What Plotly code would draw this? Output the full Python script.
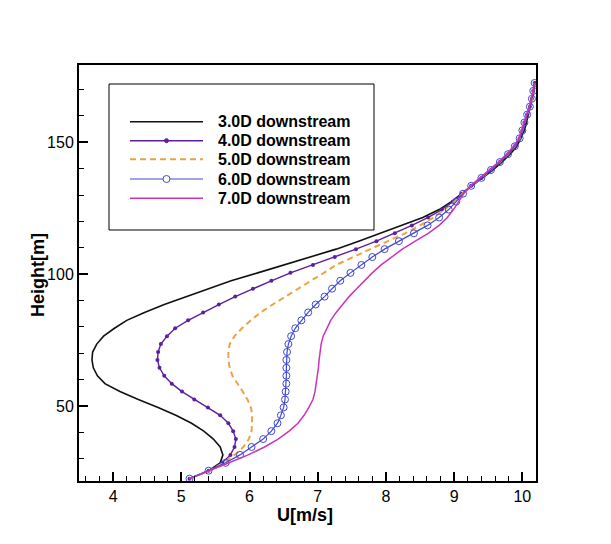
import plotly.graph_objects as go

# Heights shared by all profiles [m]
HEIGHT = [
    22.5, 25.5, 28.5, 31.5, 34.5, 37.5, 40.5, 43.5, 46.5, 49.5,
    52.5, 55.5, 58.5, 61.5, 64.5, 67.5, 70.5, 73.5, 76.5, 79.5,
    82.5, 85.5, 88.5, 91.5, 94.5, 97.5, 100.5, 103.5, 106.5, 109.5,
    112.5, 115.5, 118.5, 121.5, 124.5, 127.5, 130.5, 133.5, 136.5, 139.5,
    142.5, 145.5, 148.5, 151.5, 154.5, 157.5, 160.5, 163.5, 166.5, 169.5,
    172.5,
]

# Velocity U [m/s] at each height, per downstream distance
U_3D = [
    5.12, 5.40, 5.57, 5.61, 5.57, 5.47, 5.33, 5.15, 4.92, 4.66,
    4.37, 4.10, 3.88, 3.77, 3.71, 3.69, 3.70, 3.76, 3.86, 4.02,
    4.20, 4.46, 4.75, 5.07, 5.38, 5.73, 6.12, 6.51, 6.90, 7.27,
    7.60, 7.91, 8.24, 8.54, 8.78, 8.96, 9.11, 9.26, 9.42, 9.57,
    9.70, 9.82, 9.92, 9.98, 10.03, 10.06, 10.09, 10.12, 10.15, 10.17,
    10.18,
]
U_4D = [
    5.12, 5.40, 5.60, 5.72, 5.78, 5.80, 5.76, 5.69, 5.57, 5.39,
    5.19, 5.01, 4.86, 4.75, 4.68, 4.65, 4.66, 4.70, 4.79, 4.91,
    5.10, 5.32, 5.55, 5.79, 6.05, 6.32, 6.60, 6.93, 7.25, 7.56,
    7.86, 8.13, 8.38, 8.62, 8.82, 8.98, 9.11, 9.25, 9.40, 9.54,
    9.67, 9.79, 9.89, 9.96, 10.00, 10.03, 10.07, 10.11, 10.14, 10.16,
    10.18,
]
U_5D = [
    5.12, 5.41, 5.62, 5.78, 5.91, 5.99, 6.03, 6.04, 6.04, 6.02,
    5.97, 5.90, 5.83, 5.75, 5.71, 5.69, 5.69, 5.71, 5.78, 5.89,
    6.02, 6.16, 6.34, 6.52, 6.70, 6.90, 7.09, 7.27, 7.52, 7.77,
    8.03, 8.28, 8.50, 8.70, 8.86, 9.00, 9.12, 9.25, 9.40, 9.54,
    9.67, 9.79, 9.89, 9.96, 10.00, 10.03, 10.07, 10.11, 10.14, 10.16,
    10.18,
]
U_6D = [
    5.12, 5.40, 5.65, 5.86, 6.03, 6.20, 6.32, 6.41, 6.46, 6.50,
    6.52, 6.53, 6.54, 6.54, 6.54, 6.54, 6.55, 6.57, 6.61, 6.67,
    6.76, 6.86, 6.97, 7.10, 7.21, 7.33, 7.48, 7.64, 7.80, 7.98,
    8.19, 8.41, 8.61, 8.78, 8.92, 9.03, 9.13, 9.25, 9.40, 9.54,
    9.67, 9.79, 9.89, 9.96, 10.00, 10.03, 10.07, 10.11, 10.14, 10.16,
    10.18,
]
U_7D = [
    5.12, 5.42, 5.70, 5.98, 6.22, 6.42, 6.58, 6.71, 6.80, 6.87,
    6.93, 6.96, 6.98, 7.00, 7.01, 7.02, 7.03, 7.05, 7.08, 7.13,
    7.19, 7.27, 7.36, 7.46, 7.57, 7.68, 7.80, 7.93, 8.08, 8.24,
    8.43, 8.62, 8.78, 8.90, 8.99, 9.07, 9.14, 9.24, 9.38, 9.52,
    9.65, 9.77, 9.87, 9.95, 9.99, 10.02, 10.06, 10.10, 10.13, 10.16,
    10.18,
]

SERIES_NAMES = [
    "3.0D downstream",
    "4.0D downstream",
    "5.0D downstream",
    "6.0D downstream",
    "7.0D downstream",
]

X_RANGE = [3.5, 10.2]
Y_RANGE = [21.6, 179.3]

FONT = "Arial, Liberation Sans, sans-serif"

# line / marker styles, one per series
STYLES = [
    dict(line=dict(color="#111111", width=1.6), mode="lines"),
    dict(line=dict(color="#5b1fa0", width=1.4), mode="lines+markers",
         marker=dict(symbol="circle", size=4, color="#5b1fa0")),
    dict(line=dict(color="#e8a445", width=2, dash="6px,4px"), mode="lines"),
    dict(line=dict(color="#3f4ad0", width=1.2), mode="lines+markers",
         marker=dict(symbol="circle-open", size=7, color="#3f4ad0",
                     line=dict(width=1))),
    dict(line=dict(color="#cc33bb", width=1.5), mode="lines"),
]

# plot area in window pixels (page body has an 8px margin)
OFF = 8
L, R, T, B = 79, 536, 65, 481
W, H = 611 - OFF, 544 - OFF


def px_x(p):
    return (p - L) / (R - L)


def px_y(p):
    return (B - p) / (B - T)


fig = go.Figure()

for name, u, st in zip(SERIES_NAMES, [U_3D, U_4D, U_5D, U_6D, U_7D], STYLES):
    fig.add_trace(
        go.Scatter(
            x=u,
            y=HEIGHT,
            name=name,
            showlegend=False,
            hovertemplate=f"<b>{name}</b><br>U: %{{x}} m/s<br>Height: %{{y}} m<extra></extra>",
            **st,
        )
    )

# Tecplot-style legend box drawn in window pixels
shapes = [
    dict(type="rect", xref="paper", yref="paper",
         x0=px_x(109), x1=px_x(374), y0=px_y(230), y1=px_y(84),
         line=dict(color="black", width=1), fillcolor="white", layer="above"),
]
annotations = []
row_y = [121.7, 140.7, 159.3, 179.0, 198.3]
for name, st, py in zip(SERIES_NAMES, STYLES, row_y):
    ln = st["line"]
    shapes.append(dict(
        type="line", xref="paper", yref="paper",
        x0=px_x(130), x1=px_x(203), y0=px_y(py), y1=px_y(py),
        line=dict(color=ln["color"], width=ln["width"], dash=ln.get("dash", "solid")),
        layer="above",
    ))
    if "marker" in st:
        mk = st["marker"]
        r = mk["size"] / 2
        filled = mk["symbol"] == "circle"
        shapes.append(dict(
            type="circle", xref="paper", yref="paper",
            xsizemode="pixel", ysizemode="pixel",
            xanchor=px_x(166.5), yanchor=px_y(py),
            x0=-r, x1=r, y0=-r, y1=r,
            line=dict(color=mk["color"], width=1),
            fillcolor=mk["color"] if filled else "white",
            layer="above",
        ))
    annotations.append(dict(
        text=f"<b>{name}</b>", xref="paper", yref="paper",
        x=px_x(215.5), y=px_y(py), xanchor="left", yanchor="middle",
        showarrow=False, font=dict(family=FONT, size=16, color="black"),
    ))

# axis titles, placed like the Tecplot original
annotations.append(dict(
    text="<b>U[m/s]</b>", xref="paper", yref="paper",
    x=px_x(305), y=px_y(515), xanchor="center", yanchor="middle",
    showarrow=False, font=dict(family=FONT, size=18, color="black"),
))
annotations.append(dict(
    text="<b>Height[m]</b>", xref="paper", yref="paper",
    x=px_x(38), y=px_y(275), xanchor="center", yanchor="middle",
    textangle=-90, showarrow=False, font=dict(family=FONT, size=18, color="black"),
))

axis_common = dict(
    showgrid=False,
    zeroline=False,
    showline=True,
    linecolor="black",
    linewidth=2,
    mirror=True,
    ticks="inside",
    ticklen=9,
    tickwidth=1.5,
    tickcolor="black",
    tickfont=dict(family=FONT, size=16, color="black"),
)

fig.update_layout(
    width=W,
    height=H,
    autosize=False,
    margin=dict(l=L - OFF, r=611 - R, t=T - OFF, b=544 - B),
    paper_bgcolor="white",
    plot_bgcolor="white",
    font=dict(family=FONT, color="black"),
    xaxis=dict(
        range=X_RANGE,
        dtick=1,
        tick0=0,
        minor=dict(ticks="inside", dtick=0.2, ticklen=5, tickwidth=1.2, tickcolor="black"),
        **axis_common,
    ),
    yaxis=dict(
        range=Y_RANGE,
        dtick=50,
        tick0=0,
        minor=dict(ticks="inside", dtick=10, ticklen=5, tickwidth=1.2, tickcolor="black"),
        **axis_common,
    ),
    shapes=shapes,
    annotations=annotations,
)

fig.write_html("out.html")
